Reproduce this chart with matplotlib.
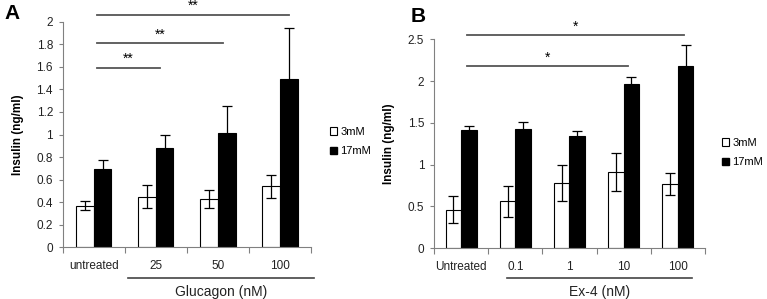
import numpy as np
import matplotlib.pyplot as plt
from matplotlib.patches import Patch

plt.rcParams['font.family'] = ['Liberation Sans', 'DejaVu Sans']

# panel A: glucagon
a_labels = ["untreated", "25", "50", "100"]
a_low = [0.37, 0.45, 0.43, 0.54]
a_low_err = [0.04, 0.10, 0.08, 0.10]
a_high = [0.69, 0.88, 1.01, 1.49]
a_high_err = [0.08, 0.12, 0.24, 0.45]
a_sig = [(1.07, 1.59, "**"), (2.09, 1.81, "**"), (3.15, 2.06, "**")]

# panel B: Ex-4
b_labels = ["Untreated", "0.1", "1", "10", "100"]
b_low = [0.46, 0.56, 0.78, 0.91, 0.77]
b_low_err = [0.16, 0.18, 0.22, 0.23, 0.13]
b_high = [1.42, 1.43, 1.34, 1.97, 2.18]
b_high_err = [0.04, 0.08, 0.06, 0.08, 0.25]
b_sig = [(3.08, 2.18, "*"), (4.12, 2.55, "*")]

GRAY = "#808080"


def panel(ax, labels, low, low_err, high, high_err, ymax, ystep, sig, sig_x0, xlabel, br, br_y, lab_y):
    n = len(labels)
    x = np.arange(n)
    w = 0.285
    ax.bar(x - w / 2, low, w, color="white", edgecolor="black", linewidth=0.8, zorder=2)
    ax.bar(x + w / 2, high, w, color="black", edgecolor="black", linewidth=0.8, zorder=2)
    ek = dict(fmt="none", ecolor="black", elinewidth=0.9, capsize=3.5, capthick=0.9, zorder=3)
    ax.errorbar(x - w / 2, low, yerr=low_err, **ek)
    ax.errorbar(x + w / 2, high, yerr=high_err, **ek)

    ax.set_xlim(-0.5, n - 0.5)
    ax.set_ylim(0, ymax)
    ticks = np.arange(0, ymax + 1e-9, ystep)
    ax.set_yticks(ticks)
    ax.set_yticklabels([f"{v:g}" for v in ticks])
    ax.set_xticks(x)
    ax.set_xticklabels(labels)
    ax.set_xticks(np.arange(-0.5, n, 1.0), minor=True)
    ax.tick_params(axis="x", which="major", length=0, pad=9, labelsize=8.5, labelcolor="#222222")
    ax.tick_params(axis="x", which="minor", length=4, width=0.8, color=GRAY, direction="out")
    ax.tick_params(axis="y", length=3, width=0.8, color=GRAY, labelsize=8.5, pad=4,
                   labelcolor="#222222")
    for s in ["top", "right"]:
        ax.spines[s].set_visible(False)
    for s in ["left", "bottom"]:
        ax.spines[s].set_color(GRAY)
        ax.spines[s].set_linewidth(0.8)
    ax.set_ylabel("Insulin (ng/ml)", fontsize=8.5, fontweight="bold", labelpad=9)

    for x1, y, star in sig:
        ax.plot([sig_x0, x1], [y, y], color="#555555", lw=1.3, clip_on=False)
        ax.text((sig_x0 + x1) / 2, y + ymax * 0.008, star, ha="center", va="bottom",
                fontsize=10, clip_on=False)

    # bracket under the treated groups
    trans = ax.get_xaxis_transform()
    ax.plot(br, [br_y, br_y], color="#444444", lw=1.2, clip_on=False, transform=trans)
    ax.text((br[0] + br[1]) / 2, lab_y, xlabel, ha="center", va="top", fontsize=10,
            transform=trans, color="#222222")


fig = plt.figure(figsize=(7.67, 2.99), dpi=100)
axA = fig.add_axes([0.0817, 0.1729, 0.3238, 0.7545])
axB = fig.add_axes([0.5658, 0.1696, 0.3534, 0.6990])

panel(axA, a_labels, a_low, a_low_err, a_high, a_high_err, 2.0, 0.2, a_sig, 0.053,
      "Glucagon (nM)", (0.55, 3.55), -0.135, -0.168)
panel(axB, b_labels, b_low, b_low_err, b_high, b_high_err, 2.5, 0.5, b_sig, 0.11,
      "Ex-4 (nM)", (0.85, 4.26), -0.141, -0.178)

fig.text(0.006, 0.985, "A", fontsize=15, fontweight="bold", va="top", ha="left")
fig.text(0.536, 0.975, "B", fontsize=15, fontweight="bold", va="top", ha="left")

handles = [Patch(facecolor="white", edgecolor="black", linewidth=0.8, label="3mM"),
           Patch(facecolor="black", edgecolor="black", label="17mM")]
leg_kw = dict(frameon=False, fontsize=8, handlelength=0.65, handleheight=0.65,
              handletextpad=0.3, labelspacing=0.85, borderpad=0, borderaxespad=0,
              loc="upper left", bbox_transform=fig.transFigure)
fig.legend(handles=handles, bbox_to_anchor=(0.430, 1 - 127 / 299), **leg_kw)
fig.legend(handles=handles, bbox_to_anchor=(0.941, 1 - 138 / 299), **leg_kw)

fig.savefig("out.png", dpi=100)
